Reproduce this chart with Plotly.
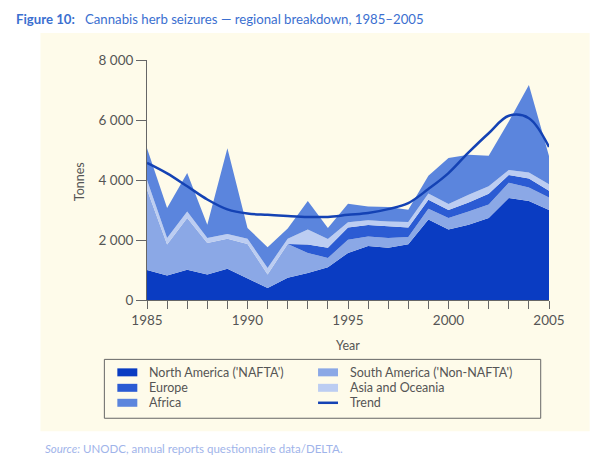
import plotly.graph_objects as go

years = list(range(1985, 2006))

# cumulative tops (tonnes)
na_top     = [1000, 815, 1010, 850, 1040, 720, 400, 740, 900, 1090, 1570, 1800, 1740, 1860, 2680, 2350, 2510, 2730, 3400, 3300, 3000]
sa_top     = [3680, 1850, 2730, 1900, 2040, 1870, 850, 1870, 1570, 1400, 2010, 2120, 2070, 2100, 3040, 2730, 2950, 3180, 3910, 3750, 3420]
eu_top     = [3680, 1850, 2730, 1900, 2040, 1870, 850, 1870, 1850, 1740, 2420, 2500, 2460, 2420, 3340, 3000, 3250, 3540, 4170, 4050, 3640]
asia_top   = [4000, 2070, 2950, 2070, 2200, 2040, 1070, 2040, 2350, 2030, 2590, 2660, 2620, 2600, 3550, 3200, 3510, 3790, 4330, 4250, 3860]
africa_top = [5060, 3070, 4230, 2510, 5060, 2400, 1760, 2380, 3300, 2400, 3210, 3120, 3100, 3010, 4140, 4730, 4840, 4810, 5950, 7170, 4800]
trend      = [4570, 4220, 3790, 3350, 3020, 2880, 2840, 2800, 2770, 2770, 2840, 2900, 3030, 3230, 3700, 4230, 4920, 5560, 6140, 6060, 5100]

north_america = na_top
south_america = [s - n for s, n in zip(sa_top, na_top)]
europe = [e - s for e, s in zip(eu_top, sa_top)]
asia_oceania = [a - e for a, e in zip(asia_top, eu_top)]
africa = [f - a for f, a in zip(africa_top, asia_top)]

y_ticks = [0, 2000, 4000, 6000, 8000]
y_ticktext = ["0", "2 000", "4 000", "6 000", "8 000"]
x_ticks = [1985, 1990, 1995, 2000, 2005]

names = ["North America ('NAFTA')", "South America ('Non-NAFTA')", "Europe",
         "Asia and Oceania", "Africa"]
colors = ["#0a3cc2", "#8ba8e6", "#2b5bd3", "#bccdf2", "#5b85dd"]
series = [north_america, south_america, europe, asia_oceania, africa]

CREAM = "#fefbea"
FONT = "Lato"

fig = go.Figure()
for nm, col, vals in zip(names, colors, series):
    fig.add_trace(go.Scatter(
        x=years, y=vals, name=nm, stackgroup="one", mode="lines",
        line=dict(width=0, color=col), fillcolor=col, showlegend=False,
        hoverinfo="x+y+name"))

fig.add_trace(go.Scatter(x=years, y=trend, name="Trend", mode="lines",
                         line=dict(color="#1442b4", width=2.5, shape="spline", smoothing=1.0),
                         showlegend=False))

# page offset (body margin) and pixel -> paper helpers (layout geometry only)
OFF = 8
L, R, T, B = 146.7 - OFF, 549.3 - OFF, 60.0 - OFF, 300.5 - OFF
W, H = 613 - OFF, 465 - OFF
def px(x):
    return (x - OFF - L) / (R - L)
def py(y):
    return (B - (y - OFF)) / (B - T)

shapes = []
# cream panel
shapes.append(dict(type="rect", xref="paper", yref="paper", x0=px(40), x1=px(590),
                   y0=py(432), y1=py(33), fillcolor=CREAM, line=dict(width=0), layer="below"))
# legend box
shapes.append(dict(type="rect", xref="paper", yref="paper", x0=px(104), x1=px(541),
                   y0=py(419), y1=py(360), fillcolor=CREAM, line=dict(width=1, color="#666666"),
                   layer="below"))

annotations = []
leg_items = [
    (0, 0, "North America ('NAFTA')", colors[0], "box"),
    (0, 1, "Europe", colors[2], "box"),
    (0, 2, "Africa", colors[4], "box"),
    (1, 0, "South America ('Non-NAFTA')", colors[1], "box"),
    (1, 1, "Asia and Oceania", colors[3], "box"),
    (1, 2, "Trend", "#1442b4", "line"),
]
col_x = [117, 318]
row_y = [373, 388.5, 403.5]
for c, r, txt, col, kind in leg_items:
    x0 = col_x[c]
    yc = row_y[r]
    if kind == "box":
        shapes.append(dict(type="rect", xref="paper", yref="paper", x0=px(x0), x1=px(x0 + 20),
                           y0=py(yc + 4), y1=py(yc - 4), fillcolor=col, line=dict(width=0)))
    else:
        shapes.append(dict(type="line", xref="paper", yref="paper", x0=px(x0), x1=px(x0 + 20),
                           y0=py(yc), y1=py(yc), line=dict(color=col, width=2.5)))
    annotations.append(dict(xref="paper", yref="paper", x=px(x0 + 30), y=py(yc), text=txt,
                            showarrow=False, xanchor="left", yanchor="middle",
                            font=dict(family=FONT, size=12.5, color="#555555")))

# title
annotations.append(dict(xref="paper", yref="paper", x=px(14), y=py(19),
                        text="<b>Figure 10:</b>   Cannabis herb seizures — regional breakdown, 1985–2005",
                        showarrow=False, xanchor="left", yanchor="middle",
                        font=dict(family=FONT, size=13.2, color="#3b6fd0")))
# source
annotations.append(dict(xref="paper", yref="paper", x=px(43), y=py(449),
                        text="<i>Source:</i> UNODC, annual reports questionnaire data/DELTA.",
                        showarrow=False, xanchor="left", yanchor="middle",
                        font=dict(family=FONT, size=11.5, color="#9fb4ea")))
# axis titles
annotations.append(dict(xref="paper", yref="paper", x=px(348), y=py(346), text="Year",
                        showarrow=False, xanchor="center", yanchor="middle",
                        font=dict(family=FONT, size=12.5, color="#555555")))
annotations.append(dict(xref="paper", yref="paper", x=px(79), y=py(182), text="Tonnes",
                        showarrow=False, xanchor="center", yanchor="middle", textangle=-90,
                        font=dict(family=FONT, size=12.5, color="#555555")))

fig.update_layout(
    width=W, height=H,
    margin=dict(l=L, r=W - R, t=T, b=H - B, pad=0),
    paper_bgcolor="white", plot_bgcolor="rgba(0,0,0,0)",
    shapes=shapes, annotations=annotations,
    showlegend=False,
    xaxis=dict(range=[1985, 2005], tickvals=x_ticks, ticktext=[str(v) for v in x_ticks],
               ticks="outside", ticklen=8, tickcolor="#666666", tickwidth=1,
               showline=True, linecolor="#666666", linewidth=1,
               showgrid=False, zeroline=False,
               minor=dict(dtick=1, tick0=1985, ticks="outside", ticklen=8, tickcolor="#666666", showgrid=False),
               tickfont=dict(family=FONT, size=13.5, color="#555555")),
    yaxis=dict(range=[0, 8000], tickvals=y_ticks, ticktext=y_ticktext,
               ticks="outside", ticklen=10, tickcolor="#666666", tickwidth=1,
               showline=True, linecolor="#666666", linewidth=1,
               showgrid=False, zeroline=False,
               tickfont=dict(family=FONT, size=13.5, color="#555555")),
)

fig.write_html("out.html")
